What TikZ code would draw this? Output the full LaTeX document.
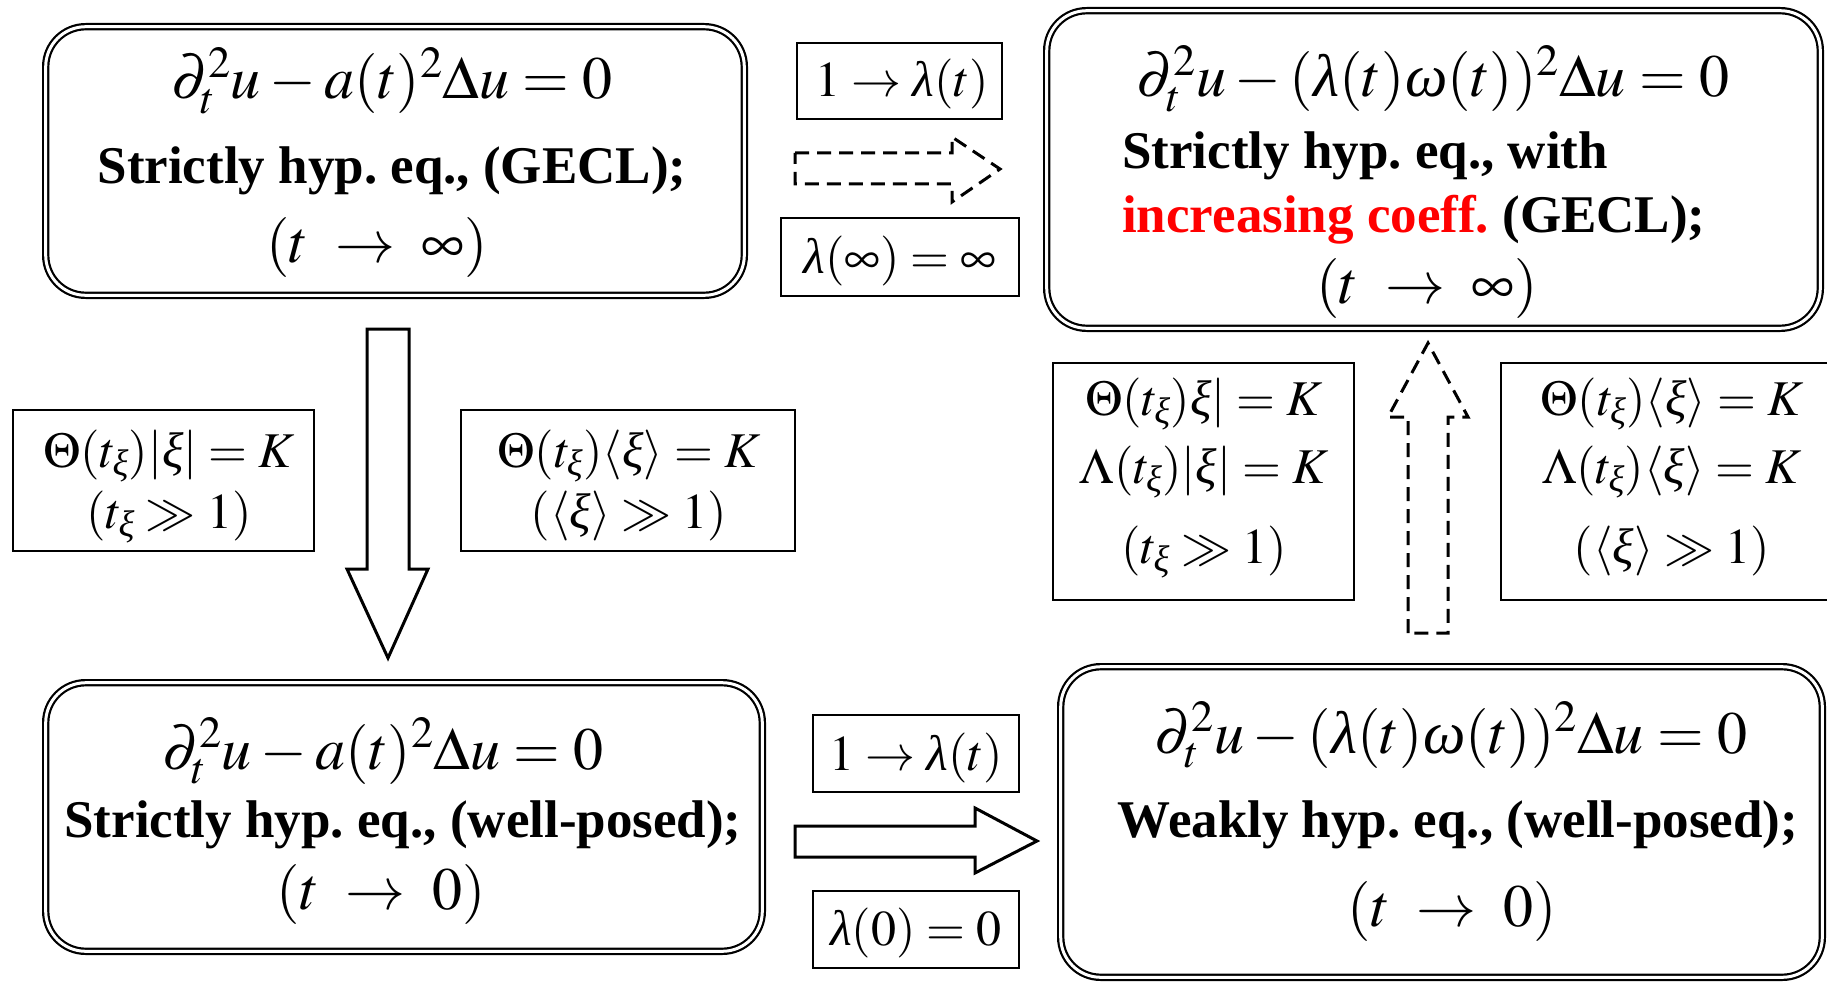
\documentclass[tikz,border=0pt]{standalone}
\usepackage{amsmath}
\usepackage{mathptmx}
\usepackage{fontspec}
\setmainfont{Liberation Serif}
\newcommand{\glam}{\text{\itshape λ}}
\newcommand{\gxi}{\text{\itshape ξ}}
\newcommand{\gom}{\text{\itshape ω}}
\frenchspacing
\begin{document}
\begin{tikzpicture}[x=1pt,y=-1pt,
  bigbox/.style={draw, double, double distance=3pt, line width=2.2pt, rounded corners=40pt, inner sep=0pt},
  thinbox/.style={draw, line width=2pt, inner sep=0pt},
  eqtext/.style={font=\fontsize{60}{72}\selectfont, anchor=base, inner sep=0pt},
  boldtext/.style={font=\fontsize{53}{64}\selectfont\bfseries, anchor=base, inner sep=0pt},
  smalltext/.style={font=\fontsize{50}{60}\selectfont, anchor=base, inner sep=0pt},
  blockarrow/.style={draw, line width=3pt, line join=miter},
  dasharrow/.style={blockarrow, dash pattern=on 14pt off 8pt}]
\useasboundingbox (0,0) rectangle (1827,984);
\clip (0,0) rectangle (1827,984);
\fill[white] (0,0) rectangle (1827,984);

% big boxes
\node[bigbox, minimum width=698.6pt, minimum height=268.6pt] (tl) at (395,161) {};
\node[bigbox, minimum width=773.6pt, minimum height=317.6pt] (tr) at (1433.5,169.5) {};
\node[bigbox, minimum width=716.6pt, minimum height=268.6pt] (bl) at (404,817) {};
\node[bigbox, minimum width=761.6pt, minimum height=310.6pt] (br) at (1441.5,822) {};

% texts of big boxes
\node[eqtext] (tl1) at (392,99) {$\partial_t^2 u - a(t)^2\Delta u = 0$};
\node[boldtext] (tl2) at (392,184) {Strictly hyp. eq., (GECL);};
\node[eqtext] (tl3) at (377,262) {$(t\;\to\;\infty)$};

\node[eqtext] (tr1) at (1433,97) {$\partial_t^2 u - (\glam(t)\gom(t))^2\Delta u = 0$};
\node[boldtext, anchor=base west] (tr2) at (1122,169) {Strictly hyp. eq., with};
\node[boldtext, anchor=base west] (tr3) at (1122,233) {\textcolor{red}{increasing coeff.} (GECL);};
\node[eqtext] (tr4) at (1427,303) {$(t\;\to\;\infty)$};

\node[eqtext] (bl1) at (383,769) {$\partial_t^2 u - a(t)^2\Delta u = 0$};
\node[boldtext] (bl2) at (403,837) {Strictly hyp. eq., (well-posed);};
\node[eqtext] (bl3) at (381,909) {$(t\;\to\;0)$};

\node[eqtext] (br1) at (1451,753) {$\partial_t^2 u - (\glam(t)\gom(t))^2\Delta u = 0$};
\node[boldtext] (br2) at (1458,837) {Weakly hyp. eq., (well-posed);};
\node[eqtext] (br3) at (1452,926) {$(t\;\to\;0)$};

% thin label boxes
\node[thinbox, minimum width=205pt, minimum height=76pt] (t1) at (899.5,81) {};
\node[thinbox, minimum width=238pt, minimum height=78pt] (t2) at (900,257) {};
\node[thinbox, minimum width=206pt, minimum height=77pt] (l1) at (916,753.5) {};
\node[thinbox, minimum width=206pt, minimum height=77pt] (l2) at (916,929.5) {};
\node[thinbox, minimum width=301pt, minimum height=141pt] (m1) at (163.5,480.5) {};
\node[thinbox, minimum width=334pt, minimum height=141pt] (m2) at (628,480.5) {};
\node[thinbox, minimum width=301pt, minimum height=237pt] (m3) at (1203.5,481.5) {};
\node[thinbox, minimum width=348pt, minimum height=237pt] (m4) at (1675,481.5) {};

\node[smalltext] (t1a) at (902,97) {$1\to\glam(t)$};
\node[smalltext] (t2a) at (900,273) {$\glam(\infty)=\infty$};
\node[smalltext] (l1a) at (916,770) {$1\to\glam(t)$};
\node[smalltext] (l2a) at (916,945) {$\glam(0)=0$};

\node[smalltext] (m1a) at (169,467) {$\Theta(t_{\gxi})|\gxi| = K$};
\node[smalltext] (m1b) at (169,528) {$(t_{\gxi} \gg 1)$};
\node[smalltext] (m2a) at (629,467) {$\Theta(t_{\gxi})\langle\gxi\rangle = K$};
\node[smalltext] (m2b) at (629,528) {$(\langle\gxi\rangle \gg 1)$};

\node[smalltext] (m3a) at (1204,415) {$\Theta(t_{\gxi})\gxi| = K$};
\node[smalltext] (m3b) at (1204,483) {$\Lambda(t_{\gxi})|\gxi| = K$};
\node[smalltext] (m3c) at (1204,563) {$(t_{\gxi} \gg 1)$};
\node[smalltext] (m4a) at (1672,415) {$\Theta(t_{\gxi})\langle\gxi\rangle = K$};
\node[smalltext] (m4b) at (1672,483) {$\Lambda(t_{\gxi})\langle\gxi\rangle = K$};
\node[smalltext] (m4c) at (1672,563) {$(\langle\gxi\rangle \gg 1)$};

% block arrows
\draw[dasharrow] (795,153) -- (952,153) -- (952,137) -- (1000,169) -- (952,202) -- (952,184) -- (795,184) -- cycle;
\draw[dasharrow] (1408,633) -- (1408,417) -- (1388,417) -- (1428,343) -- (1468,417) -- (1448,417) -- (1448,633) -- cycle;
\draw[blockarrow] (367,329) -- (409,329) -- (409,569) -- (428,569) -- (388,658) -- (347,569) -- (367,569) -- cycle;
\draw[blockarrow] (795,826) -- (975,826) -- (975,808) -- (1037,841) -- (975,873) -- (975,857) -- (795,857) -- cycle;
\end{tikzpicture}
\end{document}
